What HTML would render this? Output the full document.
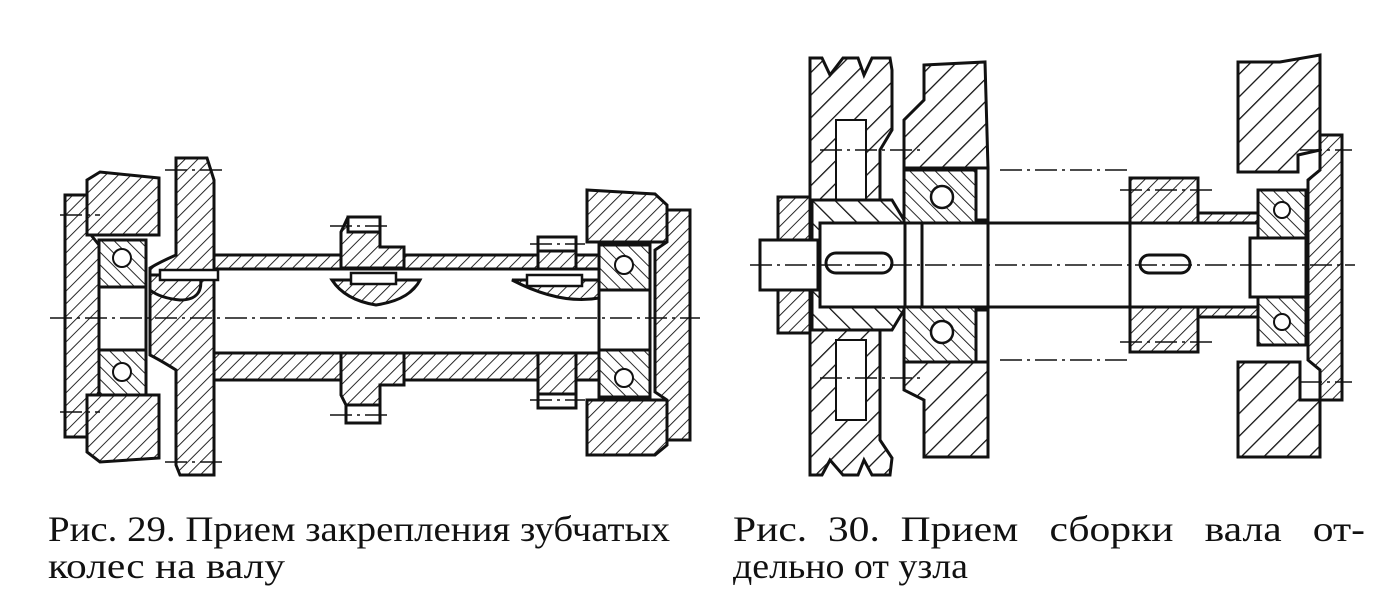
<!DOCTYPE html>
<html><head><meta charset="utf-8"><style>
html,body{margin:0;padding:0;background:#fff;width:1392px;height:610px;overflow:hidden}
svg{display:block}
</style></head><body>
<svg width="1392" height="610" viewBox="0 0 1392 610" xmlns="http://www.w3.org/2000/svg">
<defs>
<pattern id="h" width="9" height="9" patternUnits="userSpaceOnUse" patternTransform="rotate(45)">
<rect width="9" height="9" fill="#fff"/><line x1="0" y1="0" x2="0" y2="9" stroke="#111" stroke-width="1.8"/></pattern>
<pattern id="h2" width="9" height="9" patternUnits="userSpaceOnUse" patternTransform="rotate(-45)">
<rect width="9" height="9" fill="#fff"/><line x1="0" y1="0" x2="0" y2="9" stroke="#111" stroke-width="1.8"/></pattern>
<pattern id="hw" width="16" height="16" patternUnits="userSpaceOnUse" patternTransform="rotate(45)">
<rect width="16" height="16" fill="#fff"/><line x1="0" y1="0" x2="0" y2="16" stroke="#111" stroke-width="2.6"/></pattern>
<pattern id="hw2" width="16" height="16" patternUnits="userSpaceOnUse" patternTransform="rotate(-45)">
<rect width="16" height="16" fill="#fff"/><line x1="0" y1="0" x2="0" y2="16" stroke="#111" stroke-width="2.6"/></pattern>
</defs>
<g stroke="#111" stroke-width="3" fill="url(#h)">
<path d="M65 195 L87 195 L87 230 Q95 240 99 245 L99 392 Q95 400 87 405 L87 437 L65 437 Z"/>
<path d="M87 180 L100 172 L159 178 L159 235 L87 235 Z"/>
<path d="M87 395 L159 395 L159 458 L100 462 L87 452 Z"/>
<rect x="99" y="240" width="47" height="47" fill="url(#h2)"/>
<rect x="99" y="350" width="47" height="45" fill="url(#h2)"/>
<rect x="99" y="287" width="47" height="63" fill="#fff"/>
<circle cx="122" cy="258" r="9" fill="#fff" stroke-width="2"/>
<circle cx="122" cy="372" r="9" fill="#fff" stroke-width="2"/>
<path d="M176 158 L207 158 L214 180 L214 475 L180 475 L176 465 L176 370 Q160 360 150 355 L150 268 Q160 262 176 255 Z"/>
<rect x="214" y="255" width="385" height="14"/>
<rect x="214" y="353" width="385" height="27"/>
<path d="M150 275 L200 275 Q205 300 180 300 Q160 298 150 290 Z"/>
<path d="M348 217 L380 217 L380 247 L404 247 L404 268 L341 268 L341 232 Z"/>
<path d="M332 280 L420 280 Q410 300 376 305 Q345 300 332 280 Z"/>
<path d="M341 353 L404 353 L404 385 L380 385 L380 405 L346 405 L341 395 Z"/>
<rect x="346" y="405" width="34" height="18" fill="#fff"/>
<rect x="348" y="217" width="32" height="15" fill="#fff"/>
<rect x="538" y="237" width="38" height="32"/>
<rect x="538" y="237" width="38" height="14" fill="#fff"/>
<path d="M512 280 L599 280 L599 298 Q560 305 512 280 Z"/>
<rect x="538" y="353" width="38" height="55"/>
<rect x="538" y="394" width="38" height="14" fill="#fff"/>
<rect x="160" y="270" width="58" height="10" fill="#fff" stroke-width="2.5"/>
<rect x="351" y="273" width="45" height="11" fill="#fff" stroke-width="2.5"/>
<rect x="527" y="275" width="55" height="11" fill="#fff" stroke-width="2.5"/>
<path d="M587 190 L655 194 L667 205 L667 242 L587 242 Z"/>
<path d="M587 400 L667 400 L667 445 L655 455 L587 455 Z"/>
<rect x="599" y="245" width="51" height="45" fill="url(#h2)"/>
<rect x="599" y="350" width="51" height="47" fill="url(#h2)"/>
<rect x="599" y="290" width="51" height="60" fill="#fff"/>
<circle cx="624" cy="265" r="9" fill="#fff" stroke-width="2"/>
<circle cx="624" cy="378" r="9" fill="#fff" stroke-width="2"/>
<path d="M667 210 L690 210 L690 440 L667 440 L667 400 L655 392 L655 250 L667 242 Z"/>

<path d="M810 58 L822 58 L830 75 L843 58 L858 58 L864 75 L872 58 L890 58 L892 70 L892 130 L880 150 L880 440 L892 458 L890 475 L872 475 L864 460 L858 475 L843 475 L830 460 L822 475 L810 475 Z" fill="url(#hw)"/>
<rect x="836" y="120" width="30" height="80" fill="#fff" stroke-width="2"/>
<rect x="836" y="340" width="30" height="80" fill="#fff" stroke-width="2"/>
<path d="M812 200 L892 200 L910 230 L910 300 L892 330 L812 330 Z" fill="url(#hw2)"/>
<rect x="778" y="197" width="32" height="136" fill="url(#h)"/>
<path d="M924 65 L985 62 L988 168 L904 168 L904 120 L924 100 Z" fill="url(#hw)"/>
<path d="M904 362 L988 362 L988 457 L924 457 L924 400 L904 390 Z" fill="url(#hw)"/>
<rect x="976" y="168" width="12" height="52" fill="#fff"/>
<rect x="976" y="310" width="12" height="52" fill="#fff"/>
<rect x="904" y="170" width="72" height="55" fill="url(#h2)"/>
<rect x="904" y="305" width="72" height="57" fill="url(#h2)"/>
<circle cx="942" cy="197" r="11" fill="#fff" stroke-width="2.5"/>
<circle cx="942" cy="332" r="11" fill="#fff" stroke-width="2.5"/>
<rect x="820" y="223" width="168" height="84" fill="#fff"/>
<rect x="760" y="240" width="58" height="50" fill="#fff"/>
<line x1="905" y1="223" x2="905" y2="307"/><line x1="922" y1="223" x2="922" y2="307"/>
<line x1="988" y1="223" x2="1130" y2="223"/><line x1="988" y1="307" x2="1130" y2="307"/>
<rect x="826" y="253" width="66" height="20" rx="10" fill="#fff"/>
<rect x="1130" y="178" width="68" height="45"/>
<rect x="1130" y="307" width="68" height="45"/>
<rect x="1198" y="213" width="60" height="10"/>
<rect x="1198" y="307" width="60" height="10"/>
<line x1="1130" y1="223" x2="1130" y2="307"/>
<rect x="1140" y="255" width="50" height="18" rx="9" fill="#fff"/>
<path d="M1238 62 L1280 62 L1320 55 L1320 150 L1298 155 L1298 172 L1238 172 Z" fill="url(#hw)"/>
<path d="M1238 362 L1300 362 L1300 400 L1320 400 L1320 457 L1238 457 Z" fill="url(#hw)"/>
<rect x="1258" y="190" width="48" height="48" fill="url(#h2)"/>
<rect x="1258" y="297" width="48" height="48" fill="url(#h2)"/>
<circle cx="1282" cy="210" r="8" fill="#fff" stroke-width="2"/>
<circle cx="1282" cy="322" r="8" fill="#fff" stroke-width="2"/>
<rect x="1250" y="238" width="56" height="59" fill="#fff"/>
<path d="M1320 135 L1342 135 L1342 400 L1320 400 L1320 370 L1308 360 L1308 180 L1320 170 Z" fill="url(#h)"/>
</g>
<g stroke="#111" stroke-width="1.5" stroke-dasharray="22 5 3 5" fill="none">
<line x1="50" y1="318" x2="700" y2="318"/>
<line x1="750" y1="265" x2="1355" y2="265"/>
<line x1="60" y1="215" x2="100" y2="215"/><line x1="60" y1="412" x2="100" y2="412"/>
<line x1="165" y1="170" x2="225" y2="170"/><line x1="165" y1="462" x2="225" y2="462"/>
<line x1="330" y1="226" x2="392" y2="226"/><line x1="330" y1="415" x2="392" y2="415"/>
<line x1="530" y1="244" x2="585" y2="244"/><line x1="530" y1="400" x2="585" y2="400"/>
<line x1="820" y1="150" x2="920" y2="150"/><line x1="820" y1="378" x2="920" y2="378"/>
<line x1="1000" y1="170" x2="1130" y2="170"/><line x1="1000" y1="360" x2="1130" y2="360"/>
<line x1="1120" y1="190" x2="1215" y2="190"/><line x1="1120" y1="342" x2="1215" y2="342"/>
<line x1="1300" y1="150" x2="1352" y2="150"/><line x1="1300" y1="382" x2="1352" y2="382"/>
</g>
<g font-size="36" font-family="'Liberation Serif', 'DejaVu Serif', serif" fill="#111">
<text x="48" y="541" textLength="622" lengthAdjust="spacingAndGlyphs">Рис. 29. Прием закрепления зубчатых</text>
<text x="48" y="578" textLength="237" lengthAdjust="spacingAndGlyphs">колес на валу</text>
<text x="733" y="541" textLength="632" lengthAdjust="spacingAndGlyphs" xml:space="preserve">Рис.  30.  Прием   сборки   вала   от-</text>
<text x="733" y="578" textLength="235" lengthAdjust="spacingAndGlyphs">дельно от узла</text>
</g>
</svg>
</body></html>
